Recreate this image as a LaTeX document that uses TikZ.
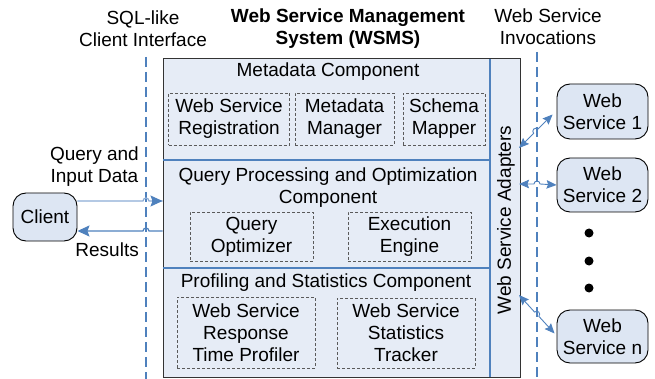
\documentclass[tikz,border=0pt]{standalone}
\usepackage{fontspec}
\setmainfont{Liberation Sans}
\usetikzlibrary{arrows.meta,calc}
\definecolor{boxfill}{RGB}{230,236,246}
\definecolor{nodefill}{RGB}{221,230,243}
\definecolor{lblue}{RGB}{79,129,189}
\definecolor{qblue}{RGB}{140,172,214}
\definecolor{dgray}{RGB}{90,90,90}
\tikzset{
  txt/.style={font=\fontsize{19}{22}\selectfont, align=center, inner sep=0pt},
  btxt/.style={txt, font=\fontsize{19}{22}\selectfont\bfseries},
  subbox/.style={draw=dgray, densely dashed, line width=0.8pt, txt},
  endnode/.style={draw=black, line width=0.9pt, fill=nodefill, rounded corners=13pt, txt},
  sepline/.style={draw=lblue, line width=1.3pt},
  lane/.style={draw=lblue, line width=1.5pt, dash pattern=on 10pt off 5pt},
  bigtip/.style={-{Stealth[length=12pt,width=11pt,inset=2pt]}},
  wsarrow/.style={draw=lblue, line width=0.9pt, {Stealth[length=10pt,width=8.5pt,inset=1.5pt]}-{Stealth[length=10pt,width=8.5pt,inset=1.5pt]}},
  dot/.style={circle, fill=black, inner sep=0pt, minimum size=9pt}
}
\begin{document}
\begin{tikzpicture}[x=1pt,y=-1pt]
\useasboundingbox (0,0) rectangle (655,379);
% lanes
\coordinate (laneLtop) at (146,57);
\coordinate (laneLbot) at (146,379);
\coordinate (laneRtop) at (537,52);
\coordinate (laneRbot) at (537,379);
\draw[lane] (laneLtop) -- (laneLbot);
\draw[lane] (laneRtop) -- (laneRbot);
% titles
\node[txt] (t1) at (143,29) {SQL-like\\Client Interface};
\node[btxt] (t2) at (348,29) {Web Service Management\\System (WSMS)};
\node[txt] (t3) at (548,27) {Web Service\\Invocations};
% main box
\node[draw=black!80, line width=1pt, fill=boxfill, minimum width=357pt, minimum height=318pt, inner sep=0pt] (wsms) at (341.5,218) {};
\draw[sepline] (490,59) -- (490,377);
\draw[sepline] (163,160) -- (490,160);
\draw[sepline] (163,268) -- (490,268);
% component titles
\node[txt] (mc) at (328,72) {Metadata Component};
\node[txt] (qc) at (328,188) {Query Processing and Optimization\\Component};
\node[txt] (pc) at (326,283) {Profiling and Statistics Component};
\node[txt, rotate=90] (ad) at (506,220) {Web Service Adapters};
% sub boxes
\node[subbox, minimum width=121pt, minimum height=52pt] (reg) at (229,119) {Web Service\\Registration};
\node[subbox, minimum width=99pt, minimum height=52pt] (mm) at (344.5,119) {Metadata\\Manager};
\node[subbox, minimum width=82pt, minimum height=52pt] (sm) at (444,119) {Schema\\Mapper};
\node[subbox, minimum width=123pt, minimum height=49pt] (qo) at (251.5,236.5) {Query\\Optimizer};
\node[subbox, minimum width=123pt, minimum height=49pt] (ee) at (409.5,236.5) {Execution\\Engine};
\node[subbox, minimum width=138pt, minimum height=71pt] (rp) at (246,332.5) {Web Service\\Response\\Time Profiler};
\node[subbox, minimum width=138pt, minimum height=70pt] (st) at (406,333) {Web Service\\Statistics\\Tracker};
% client
\node[endnode, minimum width=64pt, minimum height=48pt] (client) at (45,217) {Client};
\node[txt, anchor=east] (qlab) at (139,167) {Query and\\Input Data};
\node[txt, anchor=east] (rlab) at (139,250) {Results};
\coordinate (qs) at (client.east |- 0,201);
\coordinate (qe) at (wsms.west |- 0,201);
\coordinate (rs) at (wsms.west |- 0,231);
\coordinate (re) at (client.east |- 0,231);
\draw[qblue, line width=1.2pt] (qs) -- (143,201) arc (180:0:3pt) -- (qe);
\draw[lblue, line width=1.2pt, bigtip] (152,201) -- (qe);
\draw[lblue, line width=1.2pt, bigtip] (rs) -- (149,231) arc (0:180:3pt) -- (re);
% web services
\node[endnode, minimum width=91pt, minimum height=55pt] (ws1) at (602.5,111.5) {Web\\Service 1};
\node[endnode, minimum width=91pt, minimum height=54pt] (ws2) at (602.5,185) {Web\\Service 2};
\node[endnode, minimum width=91pt, minimum height=53pt] (wsn) at (602.5,336.5) {Web\\Service n};
\node[dot] (d1) at (589,233) {};
\node[dot] (d2) at (589,261) {};
\node[dot] (d3) at (589,288) {};
\coordinate (a1) at (519,148);
\coordinate (a2) at (519,184);
\coordinate (an) at (519,295);
\coordinate (w1) at ($(ws1.west)+(-4,3)$);
\coordinate (wn) at ($(wsn.west)+(-2,-3)$);
% arrows with hops
\draw[wsarrow] (a1) -- ($(a1)!0.5!(w1)+(-2.1,2.1)$) arc (225:45:3pt) -- (w1);
\draw[wsarrow] (a2) -- (534,184) arc (180:0:3pt) -- (ws2.west);
\draw[wsarrow] (an) -- ($(an)!0.5!(wn)+(-2.2,-2.2)$) arc (135:-45:3pt) -- (wn);
\end{tikzpicture}
\end{document}
